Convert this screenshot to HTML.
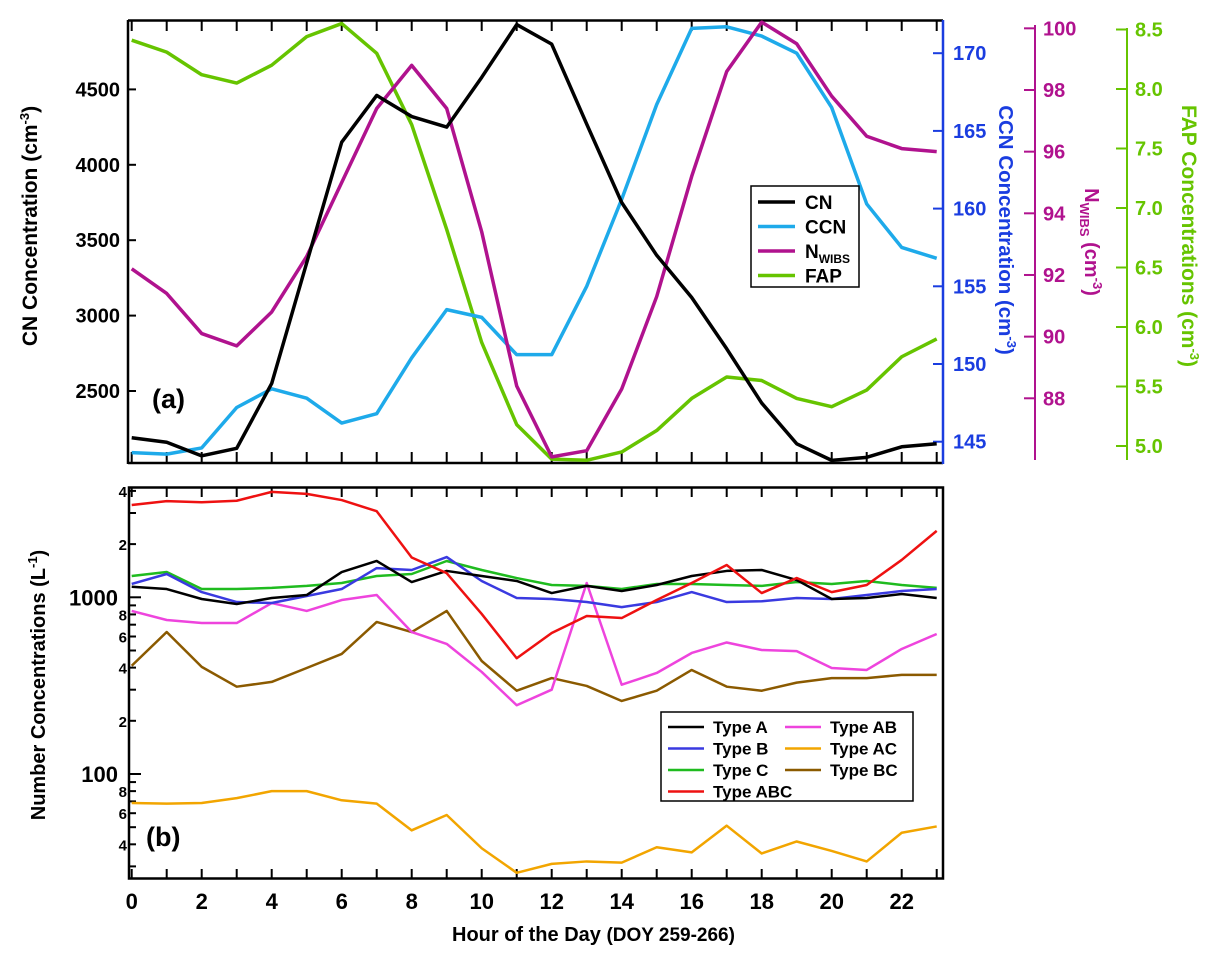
<!DOCTYPE html>
<html><head><meta charset="utf-8"><style>
body{margin:0;background:#fff}
svg text{font-family:"Liberation Sans",Arial,sans-serif;font-weight:bold}
</style></head><body>
<svg id="chart" width="1221" height="965" viewBox="0 0 1221 965" xmlns="http://www.w3.org/2000/svg"></svg>
<script>
const hours=[0,1,2,3,4,5,6,7,8,9,10,11,12,13,14,15,16,17,18,19,20,21,22,23];
const cnValues=[2190,2160,2070,2120,2550,3350,4150,4460,4320,4250,4580,4930,4800,4270,3750,3400,3120,2780,2420,2150,2040,2060,2130,2150];
const ccnValues=[144.3,144.2,144.6,147.2,148.4,147.8,146.2,146.8,150.4,153.5,153.0,150.6,150.6,155.0,160.6,166.7,171.6,171.7,171.1,170.0,166.5,160.3,157.5,156.8];
const nwibsValues=[92.2,91.4,90.1,89.7,90.8,92.6,95.0,97.4,98.8,97.4,93.4,88.4,86.1,86.3,88.3,91.3,95.2,98.6,100.2,99.5,97.8,96.5,96.1,96.0];
const fapValues=[8.41,8.31,8.12,8.05,8.2,8.44,8.55,8.3,7.7,6.82,5.87,5.18,4.89,4.88,4.95,5.13,5.4,5.58,5.55,5.4,5.33,5.47,5.75,5.9];
const typeA=[1148,1114,978,916,991,1030,1390,1605,1220,1410,1320,1237,1057,1160,1085,1174,1320,1410,1427,1252,978,991,1044,991];
const typeB=[1190,1355,1070,940,928,1017,1114,1463,1427,1690,1237,991,978,940,880,940,1070,940,950,991,978,1030,1085,1114];
const typeC=[1320,1390,1114,1114,1130,1160,1205,1320,1355,1605,1427,1285,1174,1160,1114,1190,1190,1174,1160,1220,1190,1237,1174,1130];
const typeABC=[3330,3500,3450,3520,3950,3850,3550,3070,1680,1370,805,452,628,784,763,965,1205,1523,1057,1285,1070,1174,1627,2377];
const typeAB=[837,744,715,715,928,837,965,1030,636,545,378,245,300,1205,320,373,484,555,503,496,398,388,510,620];
const typeAC=[68.5,68,68.5,73,80,80,71,68,48,58.6,38,27.6,31,32,31.5,38.5,36,51,35.5,41.5,36.7,32,46.5,50.5];
const typeBC=[410,636,404,312,332,398,478,725,636,837,436,296,349,315,259,296,388,312,296,329,349,349,364,364];
const cnTicks=[2500,3000,3500,4000,4500];
const ccnTicks=[145,150,155,160,165,170];
const nwibsTicks=[88,90,92,94,96,98,100];
const fapTicks=["5.0","5.5","6.0","6.5","7.0","7.5","8.0","8.5"];
const xTickLabels=[0,2,4,6,8,10,12,14,16,18,20,22];

const NS="http://www.w3.org/2000/svg";
const svg=document.getElementById('chart');
function el(tag,attrs,parent){const e=document.createElementNS(NS,tag);for(const k in attrs)e.setAttribute(k,attrs[k]);(parent||svg).appendChild(e);return e;}
function txt(s,attrs,parent){const t=el('text',attrs,parent);t.textContent=s;return t;}

const X=h=>131.7+35*h;
const yCN=v=>391-(v-2500)*0.1508;
const yCCN=v=>441.7-(v-145)*15.54;
const yNW=v=>398.3-(v-88)*30.83;
const yFAP=v=>446-(v-5)*119;
const yLog=v=>597.3-(Math.log10(v)-3)*176.7;

const ga=el('g',{});


el('line',{x1:128,y1:20.5,x2:943,y2:20.5,stroke:'#000','stroke-width':2.5},ga);
el('line',{x1:128,y1:463,x2:943,y2:463,stroke:'#000','stroke-width':2.5},ga);
el('line',{x1:128,y1:20,x2:128,y2:464,stroke:'#000','stroke-width':2.5},ga);
el('line',{x1:943,y1:20,x2:943,y2:464,stroke:'#1a3de0','stroke-width':2.5},ga);
hours.forEach(h=>{el('line',{x1:X(h),y1:21,x2:X(h),y2:31,stroke:'#000','stroke-width':2},ga);el('line',{x1:X(h),y1:452,x2:X(h),y2:463,stroke:'#000','stroke-width':2},ga);});
cnTicks.forEach(v=>{el('line',{x1:128,y1:yCN(v),x2:136,y2:yCN(v),stroke:'#000','stroke-width':2},ga);txt(v,{x:120,y:yCN(v)+7,'font-size':20,'text-anchor':'end',fill:'#000'},ga);});
ccnTicks.forEach(v=>{el('line',{x1:933,y1:yCCN(v),x2:943,y2:yCCN(v),stroke:'#1a3de0','stroke-width':2},ga);txt(v,{x:953,y:yCCN(v)+7,'font-size':20,fill:'#1a3de0'},ga);});
el('line',{x1:1035,y1:25,x2:1035,y2:460,stroke:'#b0128e','stroke-width':2},ga);
nwibsTicks.forEach(v=>{el('line',{x1:1024,y1:yNW(v),x2:1035,y2:yNW(v),stroke:'#b0128e','stroke-width':2},ga);txt(v,{x:1043,y:yNW(v)+7,'font-size':20,fill:'#b0128e'},ga);});
el('line',{x1:1127,y1:28,x2:1127,y2:460,stroke:'#66c400','stroke-width':2},ga);
fapTicks.forEach(v=>{const y=yFAP(parseFloat(v));el('line',{x1:1116,y1:y,x2:1127,y2:y,stroke:'#66c400','stroke-width':2},ga);txt(v,{x:1135,y:y+7,'font-size':20,fill:'#66c400'},ga);});
let t=txt('',{transform:'translate(37,226) rotate(-90)','font-size':21,'text-anchor':'middle',fill:'#000'},ga);
t.innerHTML='CN Concentration (cm<tspan dy="-8" font-size="13">-3</tspan><tspan dy="8">)</tspan>';
t=txt('',{transform:'translate(999,230) rotate(90)','font-size':20.5,'text-anchor':'middle',fill:'#1a3de0'},ga);
t.innerHTML='CCN Concentration (cm<tspan dy="-8" font-size="13">-3</tspan><tspan dy="8">)</tspan>';
t=txt('',{transform:'translate(1085,242) rotate(90)','font-size':20,'text-anchor':'middle',fill:'#b0128e'},ga);
t.innerHTML='N<tspan dy="5" font-size="13">WIBS</tspan><tspan dy="-5"> (cm</tspan><tspan dy="-8" font-size="13">-3</tspan><tspan dy="8">)</tspan>';
t=txt('',{transform:'translate(1182,236) rotate(90)','font-size':21,'text-anchor':'middle',fill:'#66c400'},ga);
t.innerHTML='FAP Concentrations (cm<tspan dy="-8" font-size="13">-3</tspan><tspan dy="8">)</tspan>';
txt('(a)',{x:152,y:408,'font-size':27,fill:'#000'},ga);

function series(vals,yf,color,w,name,parent){
  const p=el('polyline',{points:vals.map((v,i)=>X(hours[i])+','+yf(v)).join(' '),fill:'none',stroke:color,'stroke-width':w,'stroke-linejoin':'round'},parent);
  
  
}
series(fapValues,yFAP,'#66c400',3.5,'fap-line',ga);
series(ccnValues,yCCN,'#1eaaea',3.5,'ccn-line',ga);
series(nwibsValues,yNW,'#b0128e',3.5,'nwibs-line',ga);
series(cnValues,yCN,'#000',3.5,'cn-line',ga);
const la=el('g',{},ga);


el('rect',{x:751,y:186,width:108,height:101,fill:'#fff',stroke:'#000','stroke-width':1.5},la);
[['CN','#000'],['CCN','#1eaaea'],['N','#b0128e'],['FAP','#66c400']].forEach((d,i)=>{
  const y=202+i*24.5;
  el('line',{x1:758,y1:y,x2:795,y2:y,stroke:d[1],'stroke-width':3.5},la);
  const tt=txt(d[0],{x:805,y:y+7,'font-size':19,fill:'#000'},la);
  if(d[0]==='N')tt.innerHTML='N<tspan dy="5" font-size="12">WIBS</tspan>';
});

const gb=el('g',{});


el('rect',{x:129,y:487.5,width:814,height:391,fill:'none',stroke:'#000','stroke-width':2.5},gb);
hours.forEach(h=>{el('line',{x1:X(h),y1:488,x2:X(h),y2:497,stroke:'#000','stroke-width':2},gb);el('line',{x1:X(h),y1:869,x2:X(h),y2:878,stroke:'#000','stroke-width':2},gb);});
xTickLabels.forEach(h=>txt(h,{x:X(h),y:909,'font-size':22,'text-anchor':'middle',fill:'#000'},gb));
const minor=[30,40,50,60,70,80,90,200,300,400,500,600,700,800,900,2000,3000,4000];
minor.forEach(v=>{el('line',{x1:129,y1:yLog(v),x2:136,y2:yLog(v),stroke:'#000','stroke-width':2},gb);});
[100,1000].forEach(v=>{el('line',{x1:129,y1:yLog(v),x2:141,y2:yLog(v),stroke:'#000','stroke-width':2},gb);txt(v,{x:118,y:yLog(v)+8,'font-size':22,'text-anchor':'end',fill:'#000'},gb);});
[[40,'4'],[60,'6'],[80,'8'],[200,'2'],[400,'4'],[600,'6'],[800,'8'],[2000,'2'],[4000,'4']].forEach(d=>txt(d[1],{x:127,y:yLog(d[0])+6,'font-size':15,'text-anchor':'end',fill:'#000'},gb));
t=txt('',{transform:'translate(45,685) rotate(-90)','font-size':20,'text-anchor':'middle',fill:'#000'},gb);
t.innerHTML='Number Concentrations (L<tspan dy="-8" font-size="13">-1</tspan><tspan dy="8">)</tspan>';
txt('(b)',{x:146,y:846,'font-size':27,fill:'#000'},gb);
t=txt('',{x:452,y:941,'font-size':20,fill:'#000'},gb);
t.innerHTML='Hour of the Day <tspan font-size="19">(DOY 259-266)</tspan>';
series(typeAC,yLog,'#f2a500',2.5,'type-ac-line',gb);
series(typeBC,yLog,'#8b5a00',2.5,'type-bc-line',gb);
series(typeAB,yLog,'#ee44dd',2.5,'type-ab-line',gb);
series(typeC,yLog,'#1fbb1f',2.5,'type-c-line',gb);
series(typeB,yLog,'#3a3ae0',2.5,'type-b-line',gb);
series(typeA,yLog,'#000',2.5,'type-a-line',gb);
series(typeABC,yLog,'#ee1111',2.5,'type-abc-line',gb);
const lb=el('g',{},gb);


el('rect',{x:661,y:712,width:252,height:89,fill:'#fff',stroke:'#000','stroke-width':1.5},lb);
[['Type A','#000',0,0],['Type B','#3a3ae0',0,1],['Type C','#1fbb1f',0,2],['Type ABC','#ee1111',0,3],['Type AB','#ee44dd',1,0],['Type AC','#f2a500',1,1],['Type BC','#8b5a00',1,2]].forEach(d=>{
  const x0=d[2]?785:668, y=727+d[3]*21.5;
  el('line',{x1:x0,y1:y,x2:x0+36,y2:y,stroke:d[1],'stroke-width':2.5},lb);
  txt(d[0],{x:x0+45,y:y+6,'font-size':17,fill:'#000'},lb);
});
</script>
</body></html>
